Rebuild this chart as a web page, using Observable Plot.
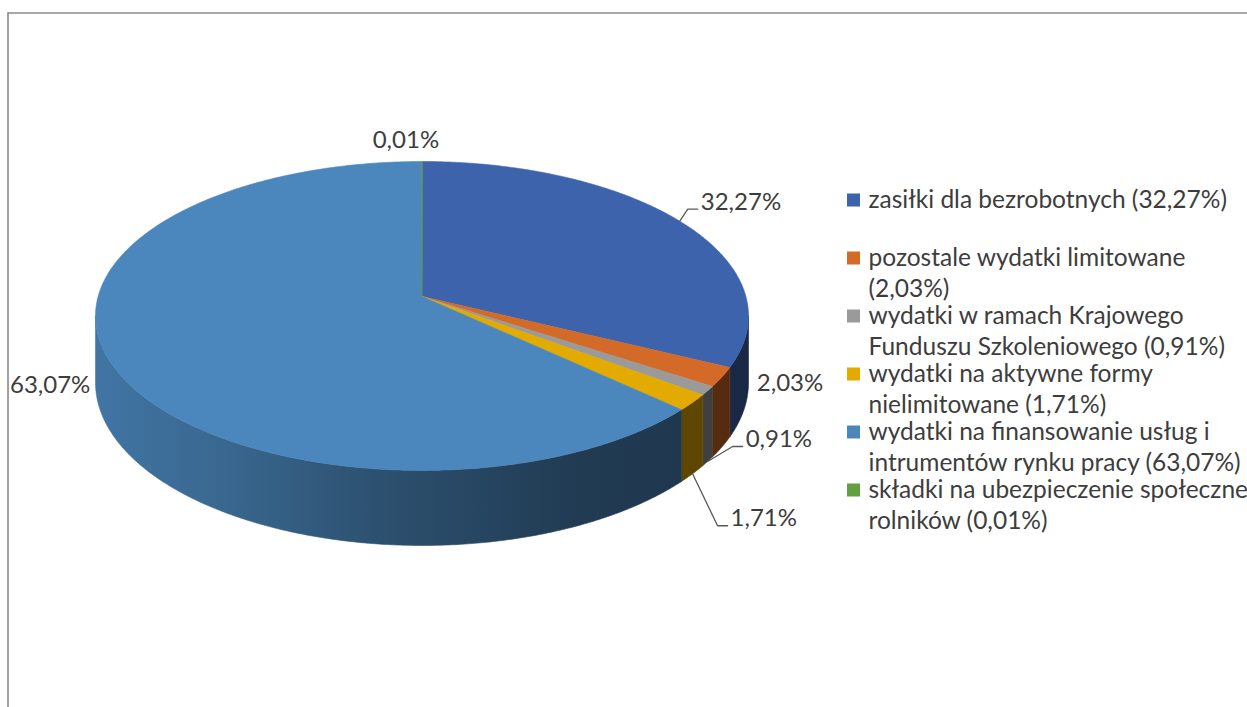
<!DOCTYPE html>
<html><head><meta charset="utf-8">
<script src="https://cdn.jsdelivr.net/npm/d3@7"></script>
<script src="https://cdn.jsdelivr.net/npm/@observablehq/plot@0.6"></script>
<style>body{margin:0;background:#fff;} svg{display:block}</style>
</head><body><div id="chart"></div>
<script>
// ---- data ----
const categories = [
  "zasiłki dla bezrobotnych",
  "pozostale wydatki limitowane",
  "wydatki w ramach Krajowego Funduszu Szkoleniowego",
  "wydatki na aktywne formy nielimitowane",
  "wydatki na finansowanie usług i intrumentów rynku pracy",
  "składki na ubezpieczenie społeczne rolników"
];
const values = [32.27, 2.03, 0.91, 1.71, 63.07, 0.01];
const valueLabels = ["32,27%", "2,03%", "0,91%", "1,71%", "63,07%", "0,01%"];
const legendLabels = [
  "zasiłki dla bezrobotnych (32,27%)",
  "pozostale wydatki limitowane\n(2,03%)",
  "wydatki w ramach Krajowego\nFunduszu Szkoleniowego (0,91%)",
  "wydatki na aktywne formy\nnielimitowane (1,71%)",
  "wydatki na finansowanie usług i\nintrumentów rynku pracy (63,07%)",
  "składki na ubezpieczenie społeczne\nrolników (0,01%)"
];
const colors = ["#3E63AD", "#D46A27", "#9A9A9A", "#E3AA00", "#4B87BC", "#60A03E"];

// ---- layout (not data) ----
const W = 1247, H = 707;
const cx = 421.5, cy = 296, sx = 323.9, sy = 152.0, k = 0.126, depth0 = 65.6;
const labelLayout = [
  {at: "top", dx: 21, dy: -19, anchor: "start", leader: true},
  {at: "top", dx: 35, dy: 6, anchor: "start", leader: false},
  {at: "bottom", dx: 38, dy: -22, anchor: "start", leader: true},
  {at: "bottom", dx: 38, dy: 45, anchor: "start", leader: true},
  {at: "top", dx: -19, dy: 25, anchor: "end", leader: false},
  {at: "top", dx: -16, dy: -21, anchor: "middle", leader: false}
];
const FONT = "Lato, 'Open Sans', sans-serif";
const textColor = "#3d3d3d";

function proj(t) {
  const u = Math.sin(t), v = -Math.cos(t), w = 1 - k * v;
  return {x: cx + sx * u / w, y: cy + sy * v / w, d: depth0 / w};
}
const total = d3.sum(values);
let acc = 0;
const slices = values.map((v, i) => {
  const a0 = acc / total * 2 * Math.PI;
  acc += v;
  const a1 = acc / total * 2 * Math.PI;
  return {i, a0, a1, mid: (a0 + a1) / 2};
});
function arc(a0, a1) {
  const n = Math.max(2, Math.ceil((a1 - a0) / (Math.PI / 360)));
  return d3.range(n + 1).map(j => a0 + (a1 - a0) * j / n);
}
const tA = Math.acos(-k), tB = 2 * Math.PI - tA;

const marks = [];
// border of chart area
marks.push(Plot.ruleY([12.5], {x1: 7.5, x2: W, stroke: "#8a8a8a", strokeWidth: 1.6}));
marks.push(Plot.ruleX([7.5], {y1: 12.5, y2: H, stroke: "#8a8a8a", strokeWidth: 1.6}));

// side walls
slices.forEach(s => {
  const a = Math.max(s.a0, tA), b = Math.min(s.a1, tB);
  if (b <= a) return;
  const ts = arc(a, b);
  const top = ts.map(t => proj(t));
  const pts = top.map(p => ({x: p.x, y: p.y})).concat(top.slice().reverse().map(p => ({x: p.x, y: p.y + p.d})));
  marks.push(Plot.line(pts, {x: "x", y: "y", curve: "linear-closed", fill: `url(#side${s.i})`, stroke: `url(#side${s.i})`, strokeWidth: 0.6}));
});
// top faces
slices.forEach(s => {
  const pts = [{x: cx, y: cy}].concat(arc(s.a0, s.a1).map(t => { const p = proj(t); return {x: p.x, y: p.y}; }));
  marks.push(Plot.line(pts, {x: "x", y: "y", curve: "linear-closed", fill: colors[s.i], stroke: colors[s.i], strokeWidth: 0.6}));
});
// data labels + leaders
const labelRows = slices.map(s => {
  const p = proj(s.mid), L = labelLayout[s.i];
  const ax = p.x, ay = L.at === "bottom" ? p.y + p.d : p.y;
  return {i: s.i, ax, ay, x: ax + L.dx, y: ay + L.dy, anchor: L.anchor, leader: L.leader, text: valueLabels[s.i]};
});
labelRows.filter(r => r.leader).forEach(r => {
  const pts = [{x: r.ax, y: r.ay}, {x: r.x - 13, y: r.y + 7}, {x: r.x - 3, y: r.y + 7}];
  marks.push(Plot.line(pts, {x: "x", y: "y", stroke: "#595959", strokeWidth: 1.3}));
});
["start", "end", "middle"].forEach(anc => {
  marks.push(Plot.text(labelRows.filter(r => r.anchor === anc), {x: "x", y: "y", text: "text", textAnchor: anc, fill: textColor, fontSize: 24, fontFamily: FONT}));
});
// legend
const legendSq = categories.map((c, i) => ({i, y: 200 + 58 * i}));
marks.push(Plot.rect(legendSq, {x1: 847, x2: 860, y1: d => d.y - 6.5, y2: d => d.y + 6.5, fill: d => colors[d.i]}));
const legendText = legendLabels.flatMap((lab, i) => lab.split("\n").map((line, j) => ({line, y: 200 + 58 * i + 31 * j})));
marks.push(Plot.text(legendText, {x: 868, y: "y", text: "line", textAnchor: "start", fill: textColor, fontSize: 24.5, fontFamily: FONT}));

const svg = Plot.plot({
  width: W, height: H, margin: 0,
  x: {domain: [0, W], range: [0, W], axis: null},
  y: {domain: [0, H], range: [0, H], axis: null},
  style: {background: "#fff", fontFamily: FONT},
  marks
});
// gradient defs for side shading
const ns = "http://www.w3.org/2000/svg";
const defs = document.createElementNS(ns, "defs");
const stops = [[0, 0.87], [0.2, 0.76], [0.44, 0.59], [0.74, 0.44], [1, 0.40]];
colors.forEach((c, i) => {
  const g = document.createElementNS(ns, "linearGradient");
  g.setAttribute("id", `side${i}`);
  g.setAttribute("gradientUnits", "userSpaceOnUse");
  g.setAttribute("x1", cx - sx * 1.01); g.setAttribute("x2", cx + sx * 1.01);
  g.setAttribute("y1", 0); g.setAttribute("y2", 0);
  const rgb = d3.rgb(c);
  stops.forEach(([o, f]) => {
    const st = document.createElementNS(ns, "stop");
    st.setAttribute("offset", o);
    st.setAttribute("stop-color", d3.rgb(rgb.r * f, rgb.g * f, rgb.b * f).formatHex());
    g.appendChild(st);
  });
  defs.appendChild(g);
});
svg.insertBefore(defs, svg.firstChild);
document.getElementById("chart").appendChild(svg);
</script>
</body></html>
